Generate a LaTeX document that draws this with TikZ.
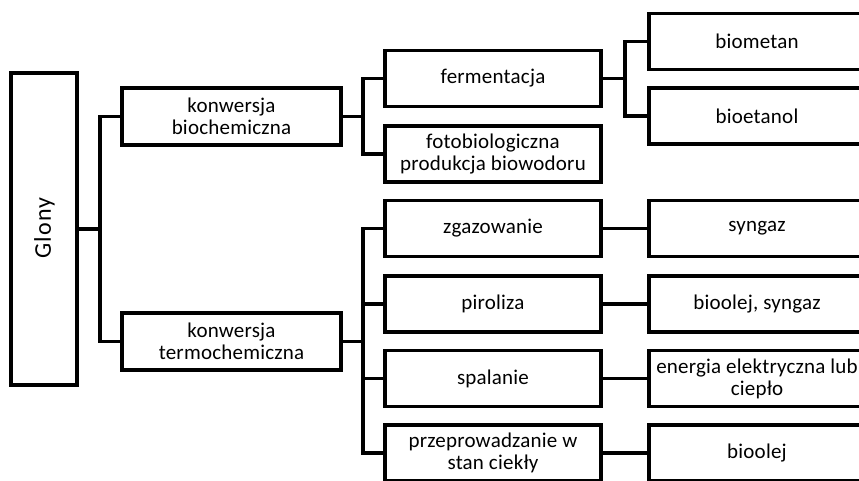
\documentclass[tikz,border=0pt]{standalone}
\usepackage{fontspec}
\newfontfamily\boxfont{Carlito}[LetterSpace=1]
\newfontfamily\rootfont{Carlito}[LetterSpace=5]
\begin{document}
\begin{tikzpicture}[x=1pt,y=-1pt,
  box/.style={draw,line width=3.5pt,rectangle,align=center,inner sep=0pt,
    font=\boxfont\fontsize{21}{22}\selectfont},
  lvlone/.style={box,minimum width=219pt,minimum height=57pt},
  lvltwo/.style={box,minimum width=216pt,minimum height=56pt},
  lvlthree/.style={box,minimum width=216pt,minimum height=56pt},
  conn/.style={line width=3.5pt}]
\useasboundingbox (0,0) rectangle (859,481);
\clip (0,0) rectangle (859,481);
% root
\node[box,minimum width=66pt,minimum height=312pt] (glony) at (44,229) {};
\node[rotate=90,font=\rootfont\fontsize{24}{28}\selectfont,inner sep=0pt] (glonyt) at (44.5,228) {Glony};
% level one
\node[lvlone] (bio) at (231.5,116.5) {konwersja\\biochemiczna};
\node[lvlone] (termo) at (231.5,341.5) {konwersja\\termochemiczna};
% level two
\node[lvltwo] (ferm) at (493,78.5) {fermentacja};
\node[lvltwo] (foto) at (493,154) {fotobiologiczna\\produkcja biowodoru};
\node[lvltwo] (zgaz) at (493,228.5) {zgazowanie};
\node[lvltwo] (piro) at (493,304) {piroliza};
\node[lvltwo] (spal) at (493,378.5) {spalanie};
\node[lvltwo] (przep) at (493,453) {przeprowadzanie w\\stan ciekły};
% level three
\node[lvlthree] (bmet) at (757,41.5) {biometan};
\node[lvlthree] (beta) at (757,116) {bioetanol};
\node[lvlthree] (syn) at (757,228.5) {syngaz};
\node[lvlthree] (bsyn) at (757,304) {bioolej, syngaz};
\node[lvlthree] (ener) at (757,378.5) {energia elektryczna lub\\ciepło};
\node[lvlthree] (bol) at (757,453) {bioolej};
% buses
\coordinate (busA) at (100,0);
\coordinate (busB) at (363,0);
\coordinate (busC) at (625,0);
% connectors
\draw[conn] (glony.east) -- (glony.east -| busA);
\draw[conn] (bio.west) -- (bio.west -| busA) -- (termo.west -| busA) -- (termo.west);
\draw[conn] (bio.east) -- (bio.east -| busB);
\draw[conn] (ferm.west) -- (ferm.west -| busB) -- (foto.west -| busB) -- (foto.west);
\draw[conn] (termo.east) -- (termo.east -| busB);
\draw[conn] (zgaz.west) -- (zgaz.west -| busB) -- (przep.west -| busB) -- (przep.west);
\draw[conn] (piro.west) -- (piro.west -| busB);
\draw[conn] (spal.west) -- (spal.west -| busB);
\draw[conn] (ferm.east) -- (ferm.east -| busC);
\draw[conn] (bmet.west) -- (bmet.west -| busC) -- (beta.west -| busC) -- (beta.west);
\draw[conn] (zgaz.east) -- (syn.west);
\draw[conn] (piro.east) -- (bsyn.west);
\draw[conn] (spal.east) -- (ener.west);
\draw[conn] (przep.east) -- (bol.west);
\end{tikzpicture}
\end{document}
